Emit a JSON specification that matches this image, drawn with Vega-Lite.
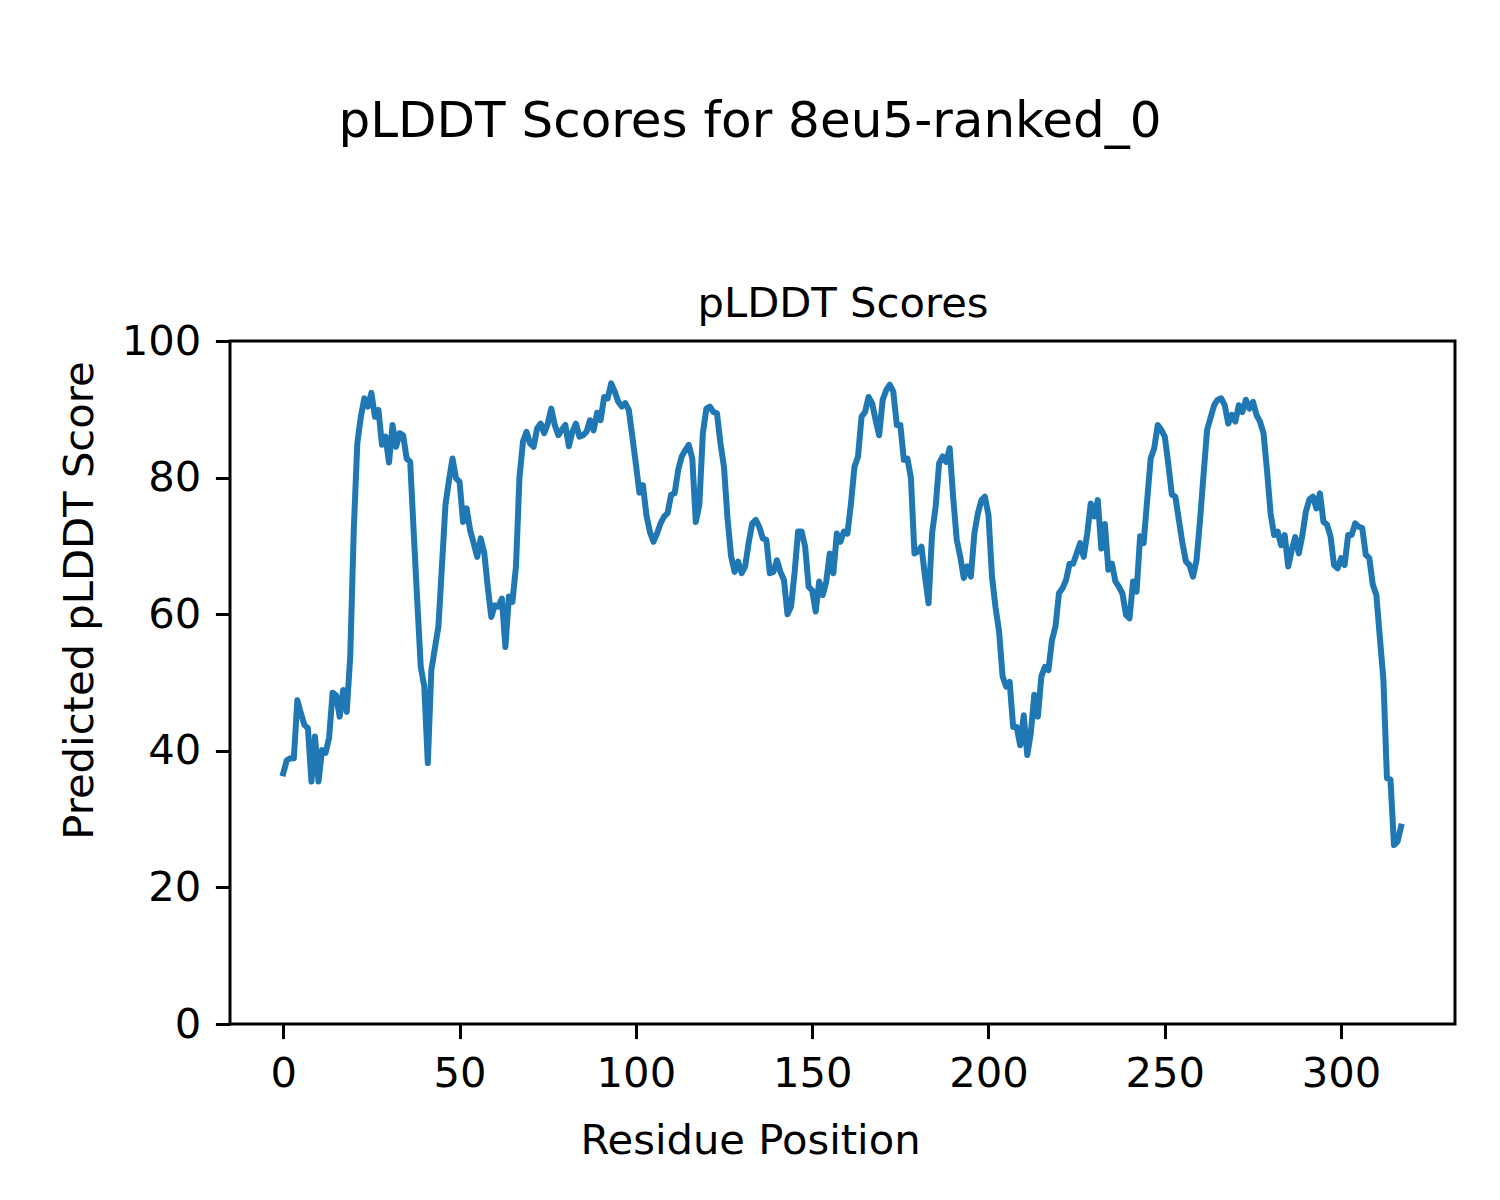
{
"$schema": "https://vega.github.io/schema/vega-lite/v6.json",
"width": 1225,
"height": 683,
"autosize": {"type": "none"},
"padding": {"left": 230, "top": 341, "right": 45, "bottom": 176},
"background": "white",
"config": {"font": "DejaVu Sans", "view": {"stroke": "black", "strokeWidth": 3}},
"title": {"text": "pLDDT Scores for 8eu5-ranked_0", "fontSize": 50, "fontWeight": "normal", "color": "black", "anchor": "middle", "dx": -92.5, "offset": 96, "baseline": "alphabetic"},
"data": {"values": [
{"residue":0,"plddt":36.7},{"residue":1,"plddt":38.6},{"residue":2,"plddt":38.9},{"residue":3,"plddt":38.9},{"residue":4,"plddt":47.4},{"residue":5,"plddt":45.5},{"residue":6,"plddt":43.8},{"residue":7,"plddt":43.3},{"residue":8,"plddt":35.5},{"residue":9,"plddt":42.1},
{"residue":10,"plddt":35.5},{"residue":11,"plddt":40.1},{"residue":12,"plddt":39.7},{"residue":13,"plddt":41.9},{"residue":14,"plddt":48.5},{"residue":15,"plddt":48.1},{"residue":16,"plddt":45.0},{"residue":17,"plddt":48.9},{"residue":18,"plddt":45.7},{"residue":19,"plddt":53.8},
{"residue":20,"plddt":72.3},{"residue":21,"plddt":85.0},{"residue":22,"plddt":88.9},{"residue":23,"plddt":91.6},{"residue":24,"plddt":90.4},{"residue":25,"plddt":92.4},{"residue":26,"plddt":88.9},{"residue":27,"plddt":89.9},{"residue":28,"plddt":84.8},{"residue":29,"plddt":86.0},
{"residue":30,"plddt":82.2},{"residue":31,"plddt":87.7},{"residue":32,"plddt":84.5},{"residue":33,"plddt":86.5},{"residue":34,"plddt":86.2},{"residue":35,"plddt":82.8},{"residue":36,"plddt":82.3},{"residue":37,"plddt":72.0},{"residue":38,"plddt":62.0},{"residue":39,"plddt":52.3},
{"residue":40,"plddt":49.4},{"residue":41,"plddt":38.2},{"residue":42,"plddt":51.8},{"residue":43,"plddt":55.0},{"residue":44,"plddt":58.2},{"residue":45,"plddt":67.0},{"residue":46,"plddt":76.0},{"residue":47,"plddt":79.6},{"residue":48,"plddt":82.8},{"residue":49,"plddt":79.9},
{"residue":50,"plddt":79.4},{"residue":51,"plddt":73.5},{"residue":52,"plddt":75.5},{"residue":53,"plddt":72.3},{"residue":54,"plddt":70.4},{"residue":55,"plddt":68.4},{"residue":56,"plddt":71.1},{"residue":57,"plddt":69.0},{"residue":58,"plddt":64.0},{"residue":59,"plddt":59.6},
{"residue":60,"plddt":61.3},{"residue":61,"plddt":61.1},{"residue":62,"plddt":62.3},{"residue":63,"plddt":55.2},{"residue":64,"plddt":62.6},{"residue":65,"plddt":61.8},{"residue":66,"plddt":67.0},{"residue":67,"plddt":80.1},{"residue":68,"plddt":85.3},{"residue":69,"plddt":86.7},
{"residue":70,"plddt":85.0},{"residue":71,"plddt":84.5},{"residue":72,"plddt":87.2},{"residue":73,"plddt":87.9},{"residue":74,"plddt":86.5},{"residue":75,"plddt":87.9},{"residue":76,"plddt":90.1},{"residue":77,"plddt":87.7},{"residue":78,"plddt":86.2},{"residue":79,"plddt":87.0},
{"residue":80,"plddt":87.7},{"residue":81,"plddt":84.6},{"residue":82,"plddt":86.7},{"residue":83,"plddt":87.9},{"residue":84,"plddt":86.0},{"residue":85,"plddt":86.2},{"residue":86,"plddt":86.7},{"residue":87,"plddt":88.4},{"residue":88,"plddt":86.9},{"residue":89,"plddt":89.5},
{"residue":90,"plddt":88.4},{"residue":91,"plddt":91.8},{"residue":92,"plddt":91.6},{"residue":93,"plddt":93.8},{"residue":94,"plddt":92.6},{"residue":95,"plddt":91.1},{"residue":96,"plddt":90.4},{"residue":97,"plddt":90.9},{"residue":98,"plddt":89.9},{"residue":99,"plddt":86.0},
{"residue":100,"plddt":82.0},{"residue":101,"plddt":77.8},{"residue":102,"plddt":78.9},{"residue":103,"plddt":74.5},{"residue":104,"plddt":72.0},{"residue":105,"plddt":70.6},{"residue":106,"plddt":71.8},{"residue":107,"plddt":73.3},{"residue":108,"plddt":74.3},{"residue":109,"plddt":74.8},
{"residue":110,"plddt":77.5},{"residue":111,"plddt":77.7},{"residue":112,"plddt":81.1},{"residue":113,"plddt":83.1},{"residue":114,"plddt":84.0},{"residue":115,"plddt":84.8},{"residue":116,"plddt":82.8},{"residue":117,"plddt":73.5},{"residue":118,"plddt":76.0},{"residue":119,"plddt":86.5},
{"residue":120,"plddt":90.1},{"residue":121,"plddt":90.4},{"residue":122,"plddt":89.6},{"residue":123,"plddt":89.4},{"residue":124,"plddt":85.0},{"residue":125,"plddt":81.5},{"residue":126,"plddt":74.0},{"residue":127,"plddt":68.5},{"residue":128,"plddt":66.2},{"residue":129,"plddt":67.7},
{"residue":130,"plddt":66.0},{"residue":131,"plddt":67.0},{"residue":132,"plddt":70.5},{"residue":133,"plddt":73.3},{"residue":134,"plddt":73.8},{"residue":135,"plddt":72.8},{"residue":136,"plddt":71.1},{"residue":137,"plddt":70.9},{"residue":138,"plddt":66.0},{"residue":139,"plddt":66.2},
{"residue":140,"plddt":67.9},{"residue":141,"plddt":66.2},{"residue":142,"plddt":65.0},{"residue":143,"plddt":60.0},{"residue":144,"plddt":61.1},{"residue":145,"plddt":66.0},{"residue":146,"plddt":72.1},{"residue":147,"plddt":72.1},{"residue":148,"plddt":69.9},{"residue":149,"plddt":64.0},
{"residue":150,"plddt":63.5},{"residue":151,"plddt":60.4},{"residue":152,"plddt":64.8},{"residue":153,"plddt":62.8},{"residue":154,"plddt":64.8},{"residue":155,"plddt":68.9},{"residue":156,"plddt":66.0},{"residue":157,"plddt":71.8},{"residue":158,"plddt":70.6},{"residue":159,"plddt":72.1},
{"residue":160,"plddt":71.8},{"residue":161,"plddt":76.2},{"residue":162,"plddt":81.6},{"residue":163,"plddt":83.1},{"residue":164,"plddt":88.9},{"residue":165,"plddt":89.6},{"residue":166,"plddt":91.8},{"residue":167,"plddt":90.9},{"residue":168,"plddt":88.4},{"residue":169,"plddt":86.2},
{"residue":170,"plddt":91.4},{"residue":171,"plddt":92.8},{"residue":172,"plddt":93.6},{"residue":173,"plddt":92.6},{"residue":174,"plddt":87.7},{"residue":175,"plddt":87.7},{"residue":176,"plddt":82.6},{"residue":177,"plddt":82.8},{"residue":178,"plddt":80.0},{"residue":179,"plddt":68.9},
{"residue":180,"plddt":69.2},{"residue":181,"plddt":69.9},{"residue":182,"plddt":65.5},{"residue":183,"plddt":61.6},{"residue":184,"plddt":71.8},{"residue":185,"plddt":75.7},{"residue":186,"plddt":82.1},{"residue":187,"plddt":83.1},{"residue":188,"plddt":82.3},{"residue":189,"plddt":84.3},
{"residue":190,"plddt":77.0},{"residue":191,"plddt":70.9},{"residue":192,"plddt":68.4},{"residue":193,"plddt":65.3},{"residue":194,"plddt":67.0},{"residue":195,"plddt":65.5},{"residue":196,"plddt":71.8},{"residue":197,"plddt":74.8},{"residue":198,"plddt":76.7},{"residue":199,"plddt":77.2},
{"residue":200,"plddt":74.5},{"residue":201,"plddt":65.5},{"residue":202,"plddt":61.0},{"residue":203,"plddt":57.5},{"residue":204,"plddt":50.9},{"residue":205,"plddt":49.4},{"residue":206,"plddt":50.1},{"residue":207,"plddt":43.5},{"residue":208,"plddt":43.5},{"residue":209,"plddt":40.8},
{"residue":210,"plddt":45.2},{"residue":211,"plddt":39.4},{"residue":212,"plddt":42.6},{"residue":213,"plddt":48.2},{"residue":214,"plddt":45.0},{"residue":215,"plddt":50.9},{"residue":216,"plddt":52.3},{"residue":217,"plddt":51.8},{"residue":218,"plddt":56.2},{"residue":219,"plddt":58.2},
{"residue":220,"plddt":63.1},{"residue":221,"plddt":63.8},{"residue":222,"plddt":65.0},{"residue":223,"plddt":67.4},{"residue":224,"plddt":67.4},{"residue":225,"plddt":68.9},{"residue":226,"plddt":70.4},{"residue":227,"plddt":68.4},{"residue":228,"plddt":71.8},{"residue":229,"plddt":76.2},
{"residue":230,"plddt":74.3},{"residue":231,"plddt":76.7},{"residue":232,"plddt":69.6},{"residue":233,"plddt":73.2},{"residue":234,"plddt":66.5},{"residue":235,"plddt":67.4},{"residue":236,"plddt":64.8},{"residue":237,"plddt":64.0},{"residue":238,"plddt":63.0},{"residue":239,"plddt":59.9},
{"residue":240,"plddt":59.4},{"residue":241,"plddt":64.8},{"residue":242,"plddt":63.3},{"residue":243,"plddt":71.4},{"residue":244,"plddt":70.4},{"residue":245,"plddt":76.7},{"residue":246,"plddt":82.8},{"residue":247,"plddt":84.3},{"residue":248,"plddt":87.7},{"residue":249,"plddt":87.0},
{"residue":250,"plddt":86.0},{"residue":251,"plddt":82.0},{"residue":252,"plddt":77.5},{"residue":253,"plddt":77.2},{"residue":254,"plddt":73.8},{"residue":255,"plddt":70.4},{"residue":256,"plddt":67.7},{"residue":257,"plddt":67.2},{"residue":258,"plddt":65.5},{"residue":259,"plddt":67.9},
{"residue":260,"plddt":73.8},{"residue":261,"plddt":80.5},{"residue":262,"plddt":87.0},{"residue":263,"plddt":88.8},{"residue":264,"plddt":90.6},{"residue":265,"plddt":91.4},{"residue":266,"plddt":91.6},{"residue":267,"plddt":90.6},{"residue":268,"plddt":87.9},{"residue":269,"plddt":89.2},
{"residue":270,"plddt":88.2},{"residue":271,"plddt":90.6},{"residue":272,"plddt":89.6},{"residue":273,"plddt":91.4},{"residue":274,"plddt":90.1},{"residue":275,"plddt":91.1},{"residue":276,"plddt":89.2},{"residue":277,"plddt":88.2},{"residue":278,"plddt":86.5},{"residue":279,"plddt":81.0},
{"residue":280,"plddt":74.8},{"residue":281,"plddt":71.6},{"residue":282,"plddt":72.1},{"residue":283,"plddt":70.1},{"residue":284,"plddt":71.6},{"residue":285,"plddt":67.0},{"residue":286,"plddt":69.4},{"residue":287,"plddt":71.3},{"residue":288,"plddt":68.9},{"residue":289,"plddt":71.5},
{"residue":290,"plddt":75.0},{"residue":291,"plddt":76.8},{"residue":292,"plddt":77.2},{"residue":293,"plddt":75.5},{"residue":294,"plddt":77.7},{"residue":295,"plddt":73.5},{"residue":296,"plddt":73.1},{"residue":297,"plddt":71.4},{"residue":298,"plddt":67.2},{"residue":299,"plddt":66.7},
{"residue":300,"plddt":68.2},{"residue":301,"plddt":67.2},{"residue":302,"plddt":71.6},{"residue":303,"plddt":71.6},{"residue":304,"plddt":73.3},{"residue":305,"plddt":72.8},{"residue":306,"plddt":72.6},{"residue":307,"plddt":68.7},{"residue":308,"plddt":68.2},{"residue":309,"plddt":64.3},
{"residue":310,"plddt":62.8},{"residue":311,"plddt":56.5},{"residue":312,"plddt":50.4},{"residue":313,"plddt":36.0},{"residue":314,"plddt":35.8},{"residue":315,"plddt":26.2},{"residue":316,"plddt":26.7},{"residue":317,"plddt":28.9}
]},
"layer": [
{"mark": {"type": "line", "color": "#1f77b4", "strokeWidth": 6, "strokeCap": "square", "strokeJoin": "round"},
 "encoding": {
  "x": {"field": "residue", "type": "quantitative",
        "scale": {"domain": [-15.1, 332.3], "nice": false, "zero": false},
        "axis": {"orient": "bottom", "values": [0, 50, 100, 150, 200, 250, 300], "format": "d", "grid": false, "domain": false,
                 "labelFontSize": 41.7, "labelColor": "black", "labelPadding": 14.6, "labelFlush": false, "labelOverlap": false, "labelBound": false,
                 "tickSize": 14.6, "tickWidth": 3, "tickColor": "black",
                 "title": "Residue Position", "titleFontSize": 41.7, "titleFontWeight": "normal", "titleColor": "black",
                 "titleX": 520, "titleY": 129, "titleBaseline": "alphabetic", "titleAlign": "center"}},
  "y": {"field": "plddt", "type": "quantitative",
        "scale": {"domain": [0, 100], "nice": false, "zero": true},
        "axis": {"orient": "left", "values": [0, 20, 40, 60, 80, 100], "format": "d", "grid": false, "domain": false,
                 "labelFontSize": 41.7, "labelColor": "black", "labelPadding": 14.6, "labelFlush": false, "labelOverlap": false, "labelBound": false,
                 "tickSize": 14.6, "tickWidth": 3, "tickColor": "black",
                 "title": "Predicted pLDDT Score", "titleFontSize": 41.7, "titleFontWeight": "normal", "titleColor": "black",
                 "titleX": -138, "titleY": 259, "titleAngle": 270, "titleBaseline": "alphabetic", "titleAlign": "center"}}
 }},
{"mark": {"type": "line", "opacity": 0},
 "encoding": {
  "x": {"field": "residue", "type": "quantitative",
        "axis": {"orient": "top", "labels": false, "ticks": false, "domain": false, "grid": false,
                 "title": "pLDDT Scores", "titleFontSize": 41.7, "titleFontWeight": "normal", "titleColor": "black",
                 "titleX": 612.5, "titleY": -25, "titleBaseline": "alphabetic", "titleAlign": "center"}},
  "y": {"field": "plddt", "type": "quantitative"}
 }}
],
"resolve": {"axis": {"x": "independent"}}
}
